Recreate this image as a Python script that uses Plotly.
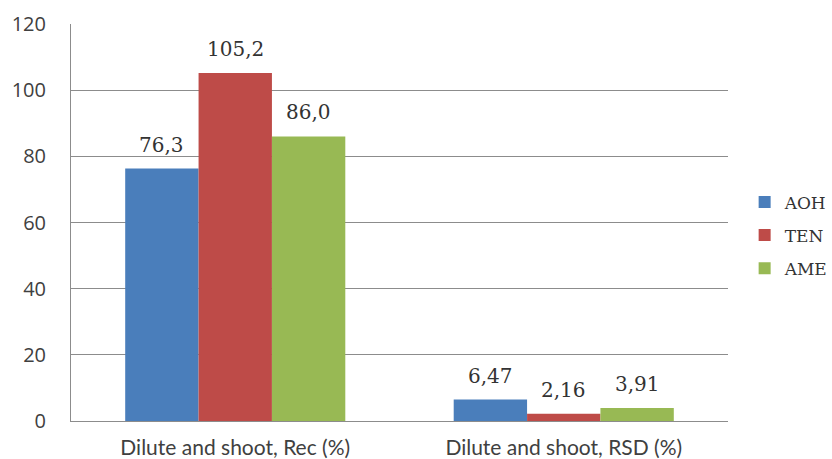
import plotly.graph_objects as go

categories = ["Dilute and shoot, Rec (%)", "Dilute and shoot, RSD (%)"]
series_names = ["AOH", "TEN", "AME"]
aoh = [76.3, 6.47]
ten = [105.2, 2.16]
ame = [86.0, 3.91]
decimals = [1, 2]  # label precision per category
colors = ["#4a7ebb", "#be4b48", "#98b954"]

bargap = 0.33
n_series = len(series_names)
bar_w = (1 - bargap) / n_series


def labels(values):
    return [f"{v:.{d}f}".replace(".", ",") for v, d in zip(values, decimals)]


fig = go.Figure()
for k, (name, vals, col) in enumerate(zip(series_names, [aoh, ten, ame], colors)):
    fig.add_trace(go.Bar(
        name=name, x=categories, y=vals, legendgroup=name,
        marker=dict(color=col, line=dict(width=0)),
    ))
    # value labels above each bar, centred on the bar within its group
    offset = (k - (n_series - 1) / 2) * bar_w
    for i, (v, t) in enumerate(zip(vals, labels(vals))):
        fig.add_annotation(
            x=i + offset, y=v, xref="x", yref="y", text=t, showarrow=False,
            yanchor="bottom", yshift=10,
            font=dict(family="DejaVu Serif", size=20, color="#333333"),
        )

fig.update_layout(
    width=832, height=459,
    margin=dict(l=71, r=104, t=24, b=38),
    paper_bgcolor="white", plot_bgcolor="white",
    barmode="group", bargap=bargap, bargroupgap=0,
    showlegend=True,
    legend=dict(xref="container", yref="container", x=0.895, y=0.487,
                yanchor="middle", xanchor="left",
                font=dict(family="DejaVu Serif", size=17, color="#333333"),
                itemwidth=30, tracegroupgap=8),
    xaxis=dict(showline=True, linecolor="#8c8c8c", linewidth=1, automargin=False,
               tickfont=dict(family="Lato", size=21, color="#404040"),
               ticks="", ticklabelstandoff=8),
    yaxis=dict(range=[0, 120], dtick=20, showgrid=True, gridcolor="#8c8c8c",
               gridwidth=1, showline=True, linecolor="#8c8c8c", zeroline=False,
               automargin=False,
               tickfont=dict(family="Open Sans", size=20, color="#404040"),
               ticks="", ticklabelstandoff=20),
)

fig.write_html("out.html")
